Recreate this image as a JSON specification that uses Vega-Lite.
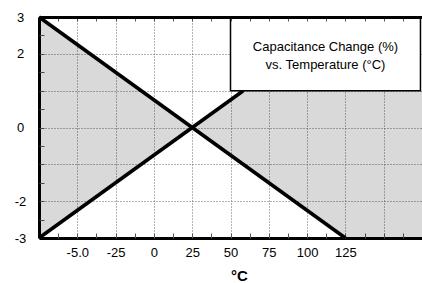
{
  "$schema": "https://vega.github.io/schema/vega-lite/v6.json",
  "width": 383,
  "height": 221,
  "autosize": {"type": "none"},
  "padding": {"left": 39, "top": 17, "right": 0, "bottom": 45},
  "config": {
    "view": {"stroke": null},
    "font": "Liberation Sans, Arial, sans-serif"
  },
  "datasets": {
    "shade": [
      {"region": "L", "temp": -75, "hi": 3, "lo": -3},
      {"region": "L", "temp": 25, "hi": 0, "lo": 0},
      {"region": "R", "temp": 25, "hi": 0, "lo": 0},
      {"region": "R", "temp": 58.33, "hi": 1, "lo": -1},
      {"region": "R", "temp": 125, "hi": 1, "lo": -3},
      {"region": "R", "temp": 175, "hi": 1, "lo": -3}
    ],
    "limits": [
      {"series": "A", "temp": -75, "change": 3},
      {"series": "A", "temp": 125, "change": -3},
      {"series": "B", "temp": -75, "change": -3},
      {"series": "B", "temp": 58.33, "change": 1}
    ],
    "box": [{"x1": 50, "x2": 174, "y1": 1, "y2": 3}],
    "caption": [
      {"temp": 112, "change": 2.19, "text": "Capacitance Change (%)"},
      {"temp": 112, "change": 1.7, "text": "vs. Temperature (°C)"}
    ]
  },
  "layer": [
    {
      "data": {"name": "shade"},
      "mark": {"type": "area", "color": "#000000", "opacity": 0.15},
      "encoding": {
        "detail": {"field": "region"},
        "x": {
          "field": "temp", "type": "quantitative",
          "scale": {"domain": [-75, 175], "nice": false, "zero": false},
          "axis": {
            "orient": "bottom",
            "values": [-50, -25, 0, 25, 50, 75, 100, 125, 150],
            "labelExpr": "datum.value == -50 ? '-5.0' : (datum.value == 150 ? '' : '' + datum.value)",
            "grid": true, "gridColor": "#666666", "gridDash": [1, 2], "gridWidth": 1,
            "ticks": false, "tickSize": 0,
            "domain": true, "domainColor": "#000000", "domainWidth": 3,
            "labelFontSize": 13, "labelColor": "#000000", "labelPadding": 8,
            "title": "°C", "titleFontSize": 15, "titleFontWeight": "bold",
            "titleColor": "#000000",
            "titlePadding": 9, "titleX": 200
          }
        },
        "y": {
          "field": "hi", "type": "quantitative",
          "scale": {"domain": [-3, 3], "nice": false, "zero": false},
          "axis": {
            "orient": "left",
            "values": [-3, -2, -1, 0, 1, 2, 3],
            "labelExpr": "abs(datum.value) == 1 ? '' : '' + datum.value",
            "grid": true, "gridColor": "#666666", "gridDash": [1, 2], "gridWidth": 1,
            "ticks": false, "tickSize": 0,
            "domain": true, "domainColor": "#000000", "domainWidth": 3,
            "labelFontSize": 13, "labelColor": "#000000", "labelPadding": 19,
            "labelAlign": "center", "labelBaseline": "middle",
            "title": null
          }
        },
        "y2": {"field": "lo"}
      }
    },
    {
      "data": {"name": "limits"},
      "mark": {"type": "line", "color": "#000000", "strokeWidth": 3.6},
      "encoding": {
        "detail": {"field": "series"},
        "x": {
          "field": "temp", "type": "quantitative",
          "scale": {"domain": [-75, 175], "nice": false, "zero": false},
          "axis": {
            "orient": "top",
            "values": [-62.5, -50, -37.5, -25, -12.5, 0, 12.5, 25, 37.5, 50, 62.5, 75, 87.5, 100, 112.5, 125, 137.5, 150, 162.5],
            "labels": false, "grid": false, "zindex": 1,
            "ticks": true, "tickSize": -4, "tickColor": "#555555", "tickWidth": 1,
            "domain": true, "domainColor": "#000000", "domainWidth": 3,
            "title": null
          }
        },
        "y": {
          "field": "change", "type": "quantitative",
          "scale": {"domain": [-3, 3], "nice": false, "zero": false},
          "axis": {
            "orient": "left",
            "values": [-2.5, -2, -1.5, -1, -0.5, 0, 0.5, 1, 1.5, 2, 2.5],
            "labels": false, "grid": false, "domain": false,
            "ticks": true, "tickSize": -5, "tickColor": "#555555", "tickWidth": 1,
            "title": null
          }
        }
      }
    },
    {
      "data": {"name": "box"},
      "mark": {"type": "rect", "fill": "#ffffff", "stroke": "#000000", "strokeWidth": 1.5},
      "encoding": {
        "x": {
          "field": "x1", "type": "quantitative",
          "scale": {"domain": [-75, 175], "nice": false, "zero": false},
          "axis": {
            "orient": "bottom",
            "values": [-62.5, -50, -37.5, -25, -12.5, 0, 12.5, 25, 37.5, 50, 62.5, 75, 87.5, 100, 112.5, 125, 137.5, 150, 162.5],
            "labels": false, "grid": false, "domain": false,
            "ticks": true, "tickSize": -5, "tickColor": "#555555", "tickWidth": 1,
            "title": null
          }
        },
        "x2": {"field": "x2"},
        "y": {"field": "y1", "type": "quantitative", "axis": null},
        "y2": {"field": "y2"}
      }
    },
    {
      "data": {"name": "caption"},
      "mark": {"type": "text", "fontSize": 13, "color": "#000000", "align": "center", "baseline": "middle"},
      "encoding": {
        "x": {"field": "temp", "type": "quantitative", "axis": null},
        "y": {"field": "change", "type": "quantitative", "axis": null},
        "text": {"field": "text"}
      }
    }
  ],
  "resolve": {"axis": {"x": "independent", "y": "independent"}}
}
